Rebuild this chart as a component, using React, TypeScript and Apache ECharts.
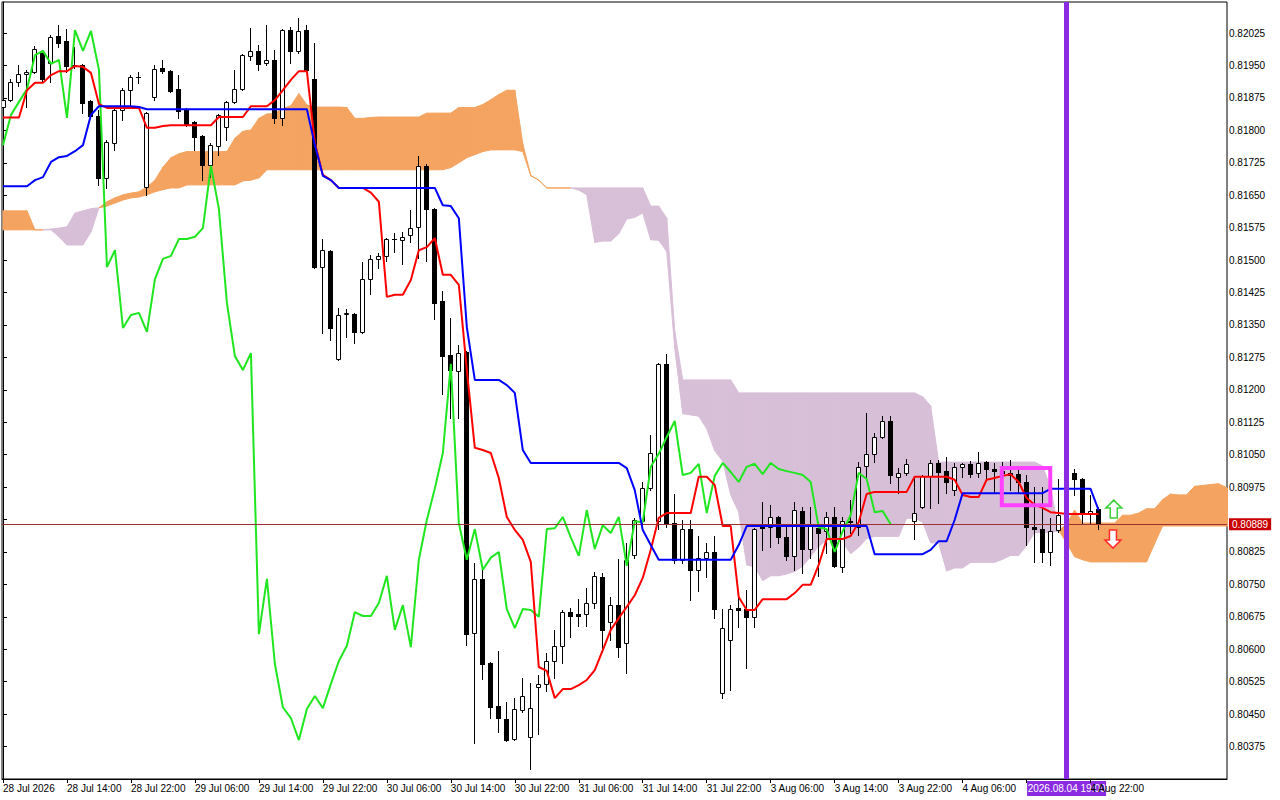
import React, { useEffect, useRef } from "react";
import * as echarts from "echarts";

// ---------- DATA (H1 bars, index 0 = 28 Jul 06:00) ----------
const open = [
  0.81854, 0.8187, 0.81912, 0.8193, 0.81935, 0.81981, 0.81956, 0.82018, 0.82007, 0.81951,
  0.81951, 0.81868, 0.81833, 0.8169, 0.81771, 0.81847, 0.81893, 0.81924, 0.81669, 0.81877,
  0.81944, 0.81937, 0.81896, 0.81847, 0.81819, 0.81787, 0.8172, 0.81764, 0.81808, 0.81866,
  0.81896, 0.81972, 0.81984, 0.81956, 0.81963, 0.81829, 0.82032, 0.81984, 0.82032, 0.81919,
  0.81484, 0.81521, 0.81271, 0.81375, 0.81375, 0.81334, 0.81456, 0.81503, 0.8151, 0.81549,
  0.81547, 0.81558, 0.81577, 0.81718, 0.81618, 0.81405, 0.81281, 0.81244, 0.81288, 0.80638,
  0.80763, 0.80568, 0.80469, 0.80439, 0.80393, 0.8046, 0.80397, 0.80513, 0.8052, 0.80573,
  0.80608, 0.80686, 0.80682, 0.80682, 0.80707, 0.80767, 0.80663, 0.80702, 0.80615, 0.80818,
  0.80896, 0.80972, 0.80896, 0.8126, 0.80892, 0.80807, 0.80878, 0.80784, 0.80812, 0.80825,
  0.80499, 0.80622, 0.80695, 0.80693, 0.80675, 0.80882, 0.80882, 0.80906, 0.80859, 0.80816,
  0.8092, 0.80832, 0.8088, 0.80873, 0.80906, 0.80791, 0.80896, 0.80882, 0.81024, 0.81052,
  0.81091, 0.81128, 0.80999, 0.81008, 0.80896, 0.80929, 0.81001, 0.81031, 0.81012, 0.80968,
  0.81022, 0.81029, 0.81008, 0.81033, 0.81017, 0.81012, 0.81008, 0.81005, 0.80987, 0.80882,
  0.80878, 0.80825, 0.80876, 0.8091, 0.81008, 0.80994, 0.80915, 0.80924,
];
const high = [
  0.81877, 0.81919, 0.81951, 0.8194, 0.81995, 0.81986, 0.82021, 0.82044, 0.82035, 0.81993,
  0.81954, 0.8187, 0.81847, 0.81778, 0.81854, 0.81898, 0.81928, 0.81935, 0.81842, 0.81951,
  0.81963, 0.8194, 0.81928, 0.81852, 0.81822, 0.81789, 0.81771, 0.81838, 0.81868, 0.8194,
  0.81977, 0.82037, 0.81998, 0.82044, 0.81986, 0.82035, 0.82039, 0.8206, 0.82044, 0.82002,
  0.81549, 0.81523, 0.81389, 0.81387, 0.81378, 0.81496, 0.81512, 0.81517, 0.81551, 0.81563,
  0.81565, 0.81616, 0.81741, 0.81722, 0.81621, 0.81428, 0.81366, 0.81304, 0.8129, 0.808,
  0.80784, 0.8057, 0.80596, 0.80478, 0.80487, 0.80534, 0.80522, 0.80541, 0.80591, 0.80645,
  0.80691, 0.80695, 0.80716, 0.80742, 0.80779, 0.80777, 0.80721, 0.80809, 0.80846, 0.80903,
  0.80986, 0.81095, 0.81262, 0.81283, 0.80959, 0.80899, 0.80899, 0.80862, 0.80846, 0.80862,
  0.80693, 0.80702, 0.80737, 0.80737, 0.8088, 0.80941, 0.80934, 0.80908, 0.80882, 0.80941,
  0.80929, 0.80929, 0.80894, 0.80917, 0.80929, 0.80906, 0.80945, 0.81033, 0.81146, 0.811,
  0.81139, 0.81139, 0.8102, 0.8104, 0.80999, 0.81003, 0.81038, 0.81038, 0.81045, 0.81031,
  0.81031, 0.81036, 0.81057, 0.81036, 0.81031, 0.81033, 0.81038, 0.81015, 0.81003, 0.80975,
  0.80975, 0.80903, 0.80994, 0.81015, 0.81017, 0.80996, 0.80957, 0.80929,
];
const low = [
  0.81847, 0.81868, 0.81903, 0.81854, 0.81933, 0.81912, 0.81912, 0.81993, 0.81935, 0.81944,
  0.8184, 0.81829, 0.81674, 0.81667, 0.81755, 0.81824, 0.81858, 0.8191, 0.8165, 0.8187,
  0.81933, 0.81889, 0.81829, 0.8181, 0.81755, 0.81685, 0.81692, 0.81743, 0.81778, 0.81863,
  0.81893, 0.81963, 0.8194, 0.81951, 0.81817, 0.81812, 0.81956, 0.81979, 0.81935, 0.81482,
  0.81332, 0.81315, 0.81269, 0.81322, 0.81308, 0.81332, 0.81422, 0.81482, 0.81498, 0.81519,
  0.81492, 0.81542, 0.81505, 0.81498, 0.81364, 0.8119, 0.81135, 0.81135, 0.8061, 0.80383,
  0.80531, 0.80441, 0.80409, 0.80388, 0.8039, 0.80455, 0.80322, 0.80404, 0.80504, 0.80534,
  0.80568, 0.80629, 0.80654, 0.80654, 0.80695, 0.80594, 0.80622, 0.80582, 0.80545, 0.80811,
  0.80882, 0.80968, 0.80878, 0.80882, 0.808, 0.808, 0.80714, 0.80735, 0.80767, 0.80672,
  0.80487, 0.80506, 0.80652, 0.80557, 0.80652, 0.8083, 0.80837, 0.80846, 0.80807, 0.80784,
  0.80777, 0.80812, 0.8077, 0.80823, 0.80791, 0.80779, 0.80869, 0.80864, 0.80991, 0.81033,
  0.81089, 0.80985, 0.80962, 0.81003, 0.80855, 0.80927, 0.80927, 0.80939, 0.80962, 0.80957,
  0.80999, 0.80999, 0.80999, 0.80991, 0.80962, 0.80968, 0.80968, 0.80962, 0.80841, 0.80802,
  0.80802, 0.80795, 0.80871, 0.80899, 0.80957, 0.80892, 0.80892, 0.80878,
];
const close = [
  0.8187, 0.81912, 0.8193, 0.81935, 0.81988, 0.81919, 0.82016, 0.82002, 0.81949, 0.81949,
  0.81863, 0.81833, 0.8169, 0.81773, 0.81847, 0.81893, 0.81924, 0.81924, 0.8184, 0.81942,
  0.81937, 0.81891, 0.81845, 0.81815, 0.81785, 0.8172, 0.81766, 0.81836, 0.81866, 0.81896,
  0.81974, 0.81984, 0.81954, 0.81963, 0.81829, 0.82032, 0.81984, 0.8203, 0.8194, 0.81484,
  0.81523, 0.81343, 0.81373, 0.81378, 0.81334, 0.81456, 0.81503, 0.8151, 0.81549, 0.81549,
  0.81554, 0.81574, 0.81718, 0.81618, 0.81401, 0.81278, 0.81246, 0.81285, 0.80635, 0.80763,
  0.80566, 0.80466, 0.80441, 0.8039, 0.80462, 0.80492, 0.80464, 0.8052, 0.80573, 0.80608,
  0.80686, 0.80677, 0.80677, 0.80707, 0.8077, 0.80645, 0.80702, 0.80605, 0.80807, 0.80899,
  0.80972, 0.81054, 0.8126, 0.80892, 0.80807, 0.80878, 0.80784, 0.80812, 0.80825, 0.80693,
  0.80649, 0.80693, 0.80691, 0.80675, 0.80878, 0.8088, 0.80906, 0.80859, 0.80816, 0.80922,
  0.80832, 0.80887, 0.80869, 0.80906, 0.80793, 0.80896, 0.80894, 0.81022, 0.81052, 0.81091,
  0.81128, 0.81003, 0.81008, 0.81029, 0.80915, 0.81001, 0.81031, 0.8101, 0.80987, 0.81022,
  0.81029, 0.81005, 0.81031, 0.81017, 0.81012, 0.81008, 0.81003, 0.80987, 0.80882, 0.80878,
  0.80825, 0.80873, 0.8091, 0.81008, 0.80994, 0.80917, 0.8092, 0.80889,
];
// Tenkan-sen (red)
const tenkan = [
  0.8183, 0.8183, 0.8183, 0.81893, 0.8191, 0.8191, 0.81928, 0.81937, 0.81937, 0.81949,
  0.81947, 0.81933, 0.81861, 0.81852, 0.81852, 0.81852, 0.81852, 0.81852, 0.81806, 0.81806,
  0.8181, 0.81812, 0.81812, 0.81812, 0.81812, 0.81812, 0.81812, 0.81831, 0.81831, 0.81831,
  0.81831, 0.81856, 0.81856, 0.81856, 0.8187, 0.81893, 0.81917, 0.81937, 0.81937, 0.81771,
  0.81697, 0.81685, 0.81667, 0.81667, 0.81667, 0.81667, 0.81656, 0.81635, 0.81415, 0.8142,
  0.8142, 0.81454, 0.81523, 0.8153, 0.81551, 0.81466, 0.81466, 0.81443, 0.81246, 0.81066,
  0.81061, 0.81054, 0.80996, 0.80906, 0.80876, 0.80853, 0.80802, 0.80559, 0.8055, 0.80487,
  0.80508, 0.80508, 0.80517, 0.80529, 0.80552, 0.80598, 0.80645, 0.80672, 0.80698, 0.80725,
  0.80765, 0.8083, 0.80904, 0.80915, 0.80915, 0.80915, 0.80915, 0.80999, 0.80999, 0.8098,
  0.80885, 0.80885, 0.80721, 0.80691, 0.80691, 0.80716, 0.80716, 0.80716, 0.80716, 0.8073,
  0.80749, 0.80749, 0.80795, 0.80855, 0.80855, 0.80855, 0.80862, 0.80894, 0.80959, 0.80964,
  0.80964, 0.80964, 0.80964, 0.80964, 0.80999, 0.80999, 0.80999, 0.80999, 0.80999, 0.80992,
  0.80957, 0.80952, 0.80952, 0.80992, 0.80996, 0.81001, 0.81005, 0.80987, 0.8095, 0.80934,
  0.80927, 0.80917, 0.80915, 0.80913, 0.80913, 0.80913, 0.80913, 0.80913,
];
// Kijun-sen (blue)
const kijun = [
  0.81671, 0.81671, 0.81671, 0.81671, 0.81685, 0.81692, 0.81727, 0.81738, 0.81741, 0.81752,
  0.81766, 0.81836, 0.81856, 0.81856, 0.81856, 0.81856, 0.81856, 0.81854, 0.81849, 0.81849,
  0.81849, 0.81849, 0.81849, 0.81849, 0.81849, 0.81849, 0.81849, 0.81849, 0.81849, 0.81849,
  0.81849, 0.81849, 0.81849, 0.81849, 0.81849, 0.81849, 0.81849, 0.81849, 0.81849, 0.81766,
  0.81695, 0.81685, 0.81667, 0.81667, 0.81667, 0.81667, 0.81667, 0.81667, 0.81667, 0.81667,
  0.81667, 0.81667, 0.81667, 0.81667, 0.81667, 0.81627, 0.81625, 0.81597, 0.81345, 0.81223,
  0.81223, 0.81223, 0.81223, 0.81211, 0.81193, 0.81061, 0.81031, 0.81031, 0.81031, 0.81031,
  0.81031, 0.81031, 0.81031, 0.81031, 0.81031, 0.81031, 0.81031, 0.81031, 0.81019, 0.80968,
  0.80876, 0.80841, 0.80807, 0.80807, 0.80807, 0.80807, 0.80807, 0.80807, 0.80807, 0.80807,
  0.80807, 0.80807, 0.80841, 0.80885, 0.80885, 0.80885, 0.80885, 0.80885, 0.80885, 0.80885,
  0.80885, 0.80885, 0.80885, 0.80885, 0.80885, 0.80885, 0.80885, 0.80885, 0.80885, 0.8082,
  0.8082, 0.8082, 0.8082, 0.8082, 0.8082, 0.8082, 0.8083, 0.8085, 0.8085, 0.80899,
  0.80961, 0.80961, 0.80961, 0.80961, 0.80961, 0.80961, 0.80961, 0.80961, 0.80961, 0.80961,
  0.80961, 0.80971, 0.80971, 0.80971, 0.80971, 0.80971, 0.80971, 0.80922,
];
// Senkou Span A / B, already shifted 26 bars forward (index = bar on chart)
const spanA = [
  0.81614, 0.81614, 0.81614, 0.81614, 0.8157, 0.8157, 0.8157, 0.81554, 0.81535, 0.81535,
  0.81535, 0.81565, 0.81621, 0.81635, 0.81644, 0.81651, 0.81655, 0.81658, 0.81669, 0.81685,
  0.81715, 0.81737, 0.81746, 0.81751, 0.81751, 0.81751,
  0.81751, 0.81751, 0.81751, 0.81782, 0.81798, 0.81801, 0.81828, 0.81838, 0.81839, 0.81851,
  0.81857, 0.81885, 0.81859, 0.81854, 0.81854, 0.81854, 0.81854, 0.81853, 0.81828, 0.81828,
  0.8183, 0.81831, 0.81831, 0.81831, 0.81831, 0.81831, 0.81831, 0.8184, 0.8184, 0.8184,
  0.8184, 0.81853, 0.81853, 0.81853, 0.8186, 0.81871, 0.81883, 0.81893, 0.81893, 0.81769,
  0.81696, 0.81685, 0.81667, 0.81667, 0.81667, 0.81667, 0.81662, 0.81651, 0.81541, 0.81544,
  0.81544, 0.81561, 0.81595, 0.81599, 0.81609, 0.81547, 0.81546, 0.8152, 0.81296, 0.81145,
  0.81142, 0.81139, 0.8111, 0.81059, 0.81035, 0.80957, 0.80917, 0.80795, 0.80791, 0.80759,
  0.8077, 0.8077, 0.80774, 0.8078, 0.80792, 0.80815, 0.80838, 0.80852, 0.80859, 0.80847,
  0.80821, 0.80836, 0.80856, 0.80861, 0.80861, 0.80861, 0.80861, 0.80903, 0.80903, 0.80894,
  0.80846, 0.80846, 0.80781, 0.80788, 0.80788, 0.80801, 0.80801, 0.80801, 0.80801, 0.80808,
  0.80817, 0.80817, 0.8084, 0.8087, 0.8087, 0.8087, 0.80874, 0.8089, 0.80922, 0.80892,
  0.80892, 0.80892, 0.80892, 0.80892, 0.8091, 0.8091, 0.80915, 0.80925, 0.80925, 0.80946,
  0.80959, 0.80957, 0.80957, 0.80977, 0.80979, 0.80981, 0.80983, 0.80974, 0.80956, 0.80948,
  0.80944, 0.80944, 0.80943, 0.80942, 0.80942, 0.80942, 0.80942, 0.80918,
];
const spanB = [
  0.8157, 0.8157, 0.8157, 0.8157, 0.8157, 0.8157, 0.81572, 0.81574, 0.81577, 0.81609,
  0.81614, 0.81619, 0.81621, 0.81625, 0.81632, 0.81639, 0.81644, 0.81646, 0.81651, 0.81658,
  0.81663, 0.81667, 0.81667, 0.81674, 0.81674, 0.81674, 0.81674, 0.81674, 0.81674, 0.81674,
  0.81683, 0.81685, 0.8169, 0.81709, 0.81709, 0.81709, 0.81709, 0.81709, 0.81709, 0.81709,
  0.81709, 0.81709, 0.81709, 0.81709, 0.81709, 0.81709, 0.81709, 0.81709, 0.81709, 0.81709,
  0.81709, 0.81709, 0.81709, 0.81709, 0.81709, 0.81709, 0.81714, 0.81725, 0.81737, 0.81744,
  0.81751, 0.81755, 0.81755, 0.81755, 0.81755, 0.81751, 0.81695, 0.81685, 0.81667, 0.81667,
  0.81667, 0.81667, 0.81667, 0.81667, 0.81667, 0.81667, 0.81667, 0.81667, 0.81667, 0.81667,
  0.81667, 0.81625, 0.81625, 0.81597, 0.81336, 0.81223, 0.81223, 0.81223, 0.81223, 0.81223,
  0.81223, 0.81223, 0.81193, 0.81193, 0.81193, 0.81193, 0.81193, 0.81193, 0.81193, 0.81193,
  0.81193, 0.81193, 0.81193, 0.81193, 0.81193, 0.81193, 0.81193, 0.81193, 0.81193, 0.81193,
  0.81193, 0.81193, 0.81193, 0.81193, 0.81193, 0.81184, 0.81163, 0.81033, 0.81033, 0.81033,
  0.81033, 0.81033, 0.81033, 0.81033, 0.81033, 0.81033, 0.81033, 0.81033, 0.81033, 0.81033,
  0.81024, 0.80973, 0.80876, 0.80846, 0.80814, 0.80807, 0.80802, 0.80802, 0.80802, 0.80802,
  0.80802, 0.80802, 0.80802, 0.80802, 0.80844, 0.80885, 0.80885, 0.80885, 0.80885, 0.80885,
  0.80885, 0.80885, 0.80885, 0.80885, 0.80885, 0.80885, 0.80885, 0.80885, 0.80885, 0.80885,
  0.80885, 0.80885, 0.80885, 0.80885,
];
const CHIKOU_SHIFT = 26;
const xTickBars = [0, 8, 16, 24, 32, 40, 48, 56, 64, 72, 80, 88, 96, 104, 112, 120, 128, 136];
// the 4 Aug 14:00 label is covered by the cursor time label in the original
const xTickLabels = [
  "28 Jul 2026", "28 Jul 14:00", "28 Jul 22:00", "29 Jul 06:00", "29 Jul 14:00", "29 Jul 22:00",
  "30 Jul 06:00", "30 Jul 14:00", "30 Jul 22:00", "31 Jul 06:00", "31 Jul 14:00", "31 Jul 22:00",
  "3 Aug 06:00", "3 Aug 14:00", "3 Aug 22:00", "4 Aug 06:00", "", "4 Aug 22:00",
];
const yTicks = [
  0.80375, 0.8045, 0.80525, 0.806, 0.80675, 0.8075, 0.80825, 0.809, 0.80975, 0.8105, 0.81125,
  0.812, 0.81275, 0.8135, 0.81425, 0.815, 0.81575, 0.8165, 0.81725, 0.818, 0.81875, 0.8195, 0.82025,
];
// 0.80900 sits under the current-price tag in the original, so its text is not drawn
const yLabelValues = yTicks.filter((v) => Math.abs(v - 0.809) > 1e-7);
const currentPrice = 0.80889;
const markerBar = 133;
const markerLabel = "2026.08.04 19:00";
const boxArea = { x0: 124.9, x1: 130.96, p0: 0.81019, p1: 0.80933 };
const upArrow = { bar: 138.9, price: 0.80945 };
const downArrow = { bar: 138.8, price: 0.80834 };

const FONT = "'Liberation Sans', Arial, sans-serif";
const FS = 10;
const ORANGE = "#f4a460";
const THISTLE = "#d8bfd8";

export default function App() {
  const ref = useRef<HTMLDivElement>(null);
  useEffect(() => {
    if (!ref.current) return;
    const chart = echarts.init(ref.current, null, { renderer: "svg" });

    const candleData = open.map((o, i) => [i, o, close[i], low[i], high[i]]);
    const cloudData: number[][] = [];
    for (let j = 0; j < spanA.length - 1; j++) {
      cloudData.push([j, spanA[j], spanB[j], spanA[j + 1], spanB[j + 1]]);
    }
    const chikou: number[][] = [];
    for (let i = 0; i + CHIKOU_SHIFT < close.length; i++) chikou.push([i, close[i + CHIKOU_SHIFT]]);
    const labelMap: Record<number, string> = {};
    xTickBars.forEach((b, k) => (labelMap[b] = xTickLabels[k]));
    const labelBars = xTickBars.filter((b, k) => xTickLabels[k] !== "");

    const option: any = {
      animation: false,
      backgroundColor: "#ffffff",
      grid: { left: 2, top: 2, right: 53, bottom: 21, show: true, borderColor: "#000", borderWidth: 1, backgroundColor: "#fff" },
      xAxis: {
        type: "value",
        min: -0.125,
        max: 153.06,
        axisLine: { show: true, lineStyle: { color: "#000", width: 1 } },
        axisTick: { show: true, customValues: xTickBars, length: 4, lineStyle: { color: "#000" } },
        axisLabel: {
          customValues: labelBars,
          formatter: (v: number) => labelMap[Math.round(v)] ?? "",
          align: "left",
          margin: 4,
          color: "#000",
          fontSize: FS,
          fontFamily: FONT,
        },
        splitLine: { show: false },
      },
      yAxis: {
        type: "value",
        position: "right",
        min: 0.803,
        max: 0.82097,
        axisLine: { show: true, lineStyle: { color: "#000", width: 1 } },
        axisTick: { show: true, customValues: yTicks, length: 4, lineStyle: { color: "#000" } },
        axisLabel: {
          customValues: yLabelValues,
          formatter: (v: number) => v.toFixed(5),
          margin: 2,
          color: "#000",
          fontSize: FS,
          fontFamily: FONT,
        },
        splitLine: { show: false },
      },
      series: [
        {
          type: "custom",
          name: "cloud",
          z: 1,
          clip: true,
          silent: true,
          encode: { x: 0, y: [1, 2, 3, 4] },
          data: cloudData,
          renderItem: (params: any, api: any) => {
            const j = api.value(0);
            const a0 = api.value(1), b0 = api.value(2), a1 = api.value(3), b1 = api.value(4);
            const A0 = api.coord([j, a0]), B0 = api.coord([j, b0]);
            const A1 = api.coord([j + 1, a1]), B1 = api.coord([j + 1, b1]);
            const d0 = a0 - b0, d1 = a1 - b1;
            const poly = (pts: number[][], col: string) => ({
              type: "polygon",
              shape: { points: pts },
              style: { fill: col, stroke: col, lineWidth: 1 },
            });
            if (d0 * d1 >= 0) {
              const col = d0 + d1 >= 0 ? ORANGE : THISTLE;
              return { type: "group", children: [poly([A0, A1, B1, B0], col)] };
            }
            const t = d0 / (d0 - d1);
            const X = [A0[0] + t * (A1[0] - A0[0]), A0[1] + t * (A1[1] - A0[1])];
            return {
              type: "group",
              children: [
                poly([A0, X, B0], d0 > 0 ? ORANGE : THISTLE),
                poly([X, A1, B1], d1 > 0 ? ORANGE : THISTLE),
              ],
            };
          },
        },
        {
          type: "custom",
          name: "candles",
          z: 2,
          clip: true,
          silent: true,
          encode: { x: 0, y: [1, 2, 3, 4] },
          data: candleData,
          renderItem: (params: any, api: any) => {
            const i = api.value(0);
            const o = api.value(1), c = api.value(2), l = api.value(3), h = api.value(4);
            const pO = api.coord([i, o]), pC = api.coord([i, c]);
            const pL = api.coord([i, l]), pH = api.coord([i, h]);
            const px = Math.round(pO[0] - 0.5);
            const xc = px + 0.5;
            const yTop = Math.round(Math.min(pO[1], pC[1]));
            const yBot = Math.round(Math.max(pO[1], pC[1]));
            const children: any[] = [
              {
                type: "line",
                shape: { x1: xc, y1: Math.round(pH[1]), x2: xc, y2: Math.round(pL[1]) + 1 },
                style: { stroke: "#000", lineWidth: 1 },
              },
            ];
            if (yBot - yTop < 1) {
              children.push({
                type: "line",
                shape: { x1: px - 2, y1: yTop + 0.5, x2: px + 3, y2: yTop + 0.5 },
                style: { stroke: "#000", lineWidth: 1 },
              });
            } else if (c >= o) {
              children.push({
                type: "rect",
                shape: { x: px - 1.5, y: yTop + 0.5, width: 4, height: yBot - yTop },
                style: { fill: "#fff", stroke: "#000", lineWidth: 1 },
              });
            } else {
              children.push({
                type: "rect",
                shape: { x: px - 2, y: yTop, width: 5, height: yBot - yTop + 1 },
                style: { fill: "#000" },
              });
            }
            return { type: "group", children };
          },
        },
        {
          type: "line",
          name: "Chikou",
          z: 3,
          data: chikou,
          showSymbol: false,
          silent: true,
          lineStyle: { color: "#1fe61f", width: 2 },
        },
        {
          type: "line",
          name: "Tenkan",
          z: 4,
          data: tenkan.map((v, i) => [i, v]),
          showSymbol: false,
          silent: true,
          lineStyle: { color: "#ff0000", width: 2 },
          markLine: {
            silent: true,
            symbol: "none",
            precision: 5,
            data: [{ yAxis: currentPrice }],
            lineStyle: { color: "#9b3030", width: 1, type: "solid" },
            label: {
              show: true,
              position: "end",
              distance: 2,
              formatter: currentPrice.toFixed(5),
              backgroundColor: "#c80000",
              color: "#ffffff",
              padding: [1, 3, 1, 3],
              fontSize: FS,
              fontFamily: FONT,
            },
          },
        },
        {
          type: "line",
          name: "Kijun",
          z: 5,
          data: kijun.map((v, i) => [i, v]),
          showSymbol: false,
          silent: true,
          lineStyle: { color: "#0000ff", width: 2 },
        },
        {
          type: "line",
          name: "marker",
          z: 10,
          data: [],
          silent: true,
          markArea: {
            silent: true,
            precision: 5,
            z: 12,
            itemStyle: { color: "rgba(0,0,0,0)", borderColor: "#ff40ff", borderWidth: 4 },
            data: [[{ xAxis: boxArea.x0, yAxis: boxArea.p0 }, { xAxis: boxArea.x1, yAxis: boxArea.p1 }]],
          },
          markLine: {
            silent: true,
            symbol: "none",
            precision: 5,
            z: 12,
            data: [{ xAxis: markerBar }],
            lineStyle: { color: "#8a2be2", width: 5, type: "solid" },
            label: { show: false },
          },
        },
      ],
    };
    chart.setOption(option);

    const mk = chart.convertToPixel({ gridIndex: 0 }, [markerBar, currentPrice]) as number[];
    const up = chart.convertToPixel({ gridIndex: 0 }, [upArrow.bar, upArrow.price]) as number[];
    const dn = chart.convertToPixel({ gridIndex: 0 }, [downArrow.bar, downArrow.price]) as number[];
    const upPts = [[0, 0], [8, 8], [3.5, 8], [3.5, 18], [-3.5, 18], [-3.5, 8], [-8, 8]].map((p) => [up[0] + p[0], up[1] + p[1]]);
    const dnPts = [[0, 0], [8, -8], [3.5, -8], [3.5, -18], [-3.5, -18], [-3.5, -8], [-8, -8]].map((p) => [dn[0] + p[0], dn[1] + p[1]]);
    chart.setOption({
      graphic: [
        {
          type: "polygon",
          shape: { points: upPts },
          style: { fill: "#ffffff", stroke: "#3ccf3c", lineWidth: 1.5 },
          z: 20,
        },
        {
          type: "polygon",
          shape: { points: dnPts },
          style: { fill: "#ffffff", stroke: "#ff2a2a", lineWidth: 1.5 },
          z: 20,
        },
        {
          type: "group",
          x: mk[0],
          y: 781,
          z: 30,
          children: [
            { type: "rect", shape: { x: -39.5, y: 0, width: 79, height: 15 }, style: { fill: "#8a2be2" } },
            {
              type: "text",
              x: 0,
              y: 7.5,
              style: {
                text: markerLabel,
                fill: "#ffffff",
                font: `${FS}px ${FONT}`,
                align: "center",
                verticalAlign: "middle",
              },
            },
          ],
        },
      ],
    });

    return () => chart.dispose();
  }, []);
  return (
    <div
      ref={ref}
      style={{ position: "absolute", left: 0, top: 0, width: 1280, height: 800, background: "#fff" }}
    />
  );
}
